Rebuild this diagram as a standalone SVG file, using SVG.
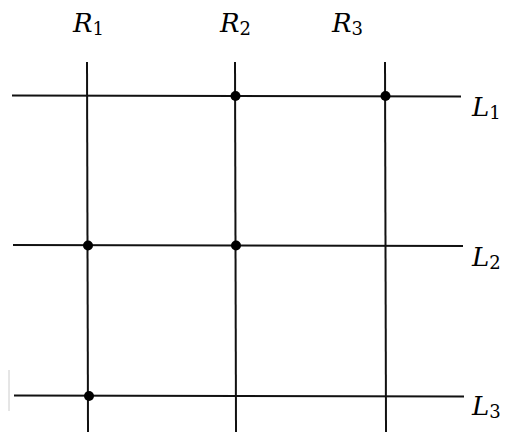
<svg xmlns="http://www.w3.org/2000/svg" width="510" height="434" viewBox="0 0 510 434">
<style>
.ln{stroke:#111;stroke-width:2;fill:none}
.dot{fill:#000}
.lbl{font-family:"DejaVu Serif","Liberation Serif",serif;font-size:26px;font-style:italic;fill:#000}
.sub{font-style:normal;font-size:18px}
</style>
<rect width="510" height="434" fill="#fff"/>
<g id="connectors">
<line class="ln" x1="87" y1="62" x2="88" y2="432"/>
<line class="ln" x1="235" y1="62" x2="236" y2="432"/>
<line class="ln" x1="385" y1="62" x2="386" y2="432"/>
<line class="ln" x1="12" y1="95.5" x2="461" y2="96.5"/>
<line class="ln" x1="13" y1="245" x2="463" y2="246"/>
<line class="ln" x1="14" y1="395.5" x2="464" y2="396.5"/>
<line x1="9" y1="370" x2="9" y2="411" stroke="#ccc" stroke-width="1"/>
</g>
<g id="R1"><text class="lbl" x="73" y="32">R<tspan class="sub" dy="3">1</tspan></text></g>
<g id="R2"><text class="lbl" x="220" y="32">R<tspan class="sub" dy="3">2</tspan></text></g>
<g id="R3"><text class="lbl" x="332" y="32">R<tspan class="sub" dy="3">3</tspan></text></g>
<g id="L1"><text class="lbl" x="472" y="116">L<tspan class="sub" dy="3">1</tspan></text></g>
<g id="L2"><text class="lbl" x="472" y="266">L<tspan class="sub" dy="3">2</tspan></text></g>
<g id="L3"><text class="lbl" x="472" y="415">L<tspan class="sub" dy="3">3</tspan></text></g>
<g id="p12"><circle class="dot" cx="235.5" cy="96" r="5"/></g>
<g id="p13"><circle class="dot" cx="385.5" cy="96" r="5"/></g>
<g id="p21"><circle class="dot" cx="88" cy="245.5" r="5"/></g>
<g id="p22"><circle class="dot" cx="236" cy="245.5" r="5"/></g>
<g id="p31"><circle class="dot" cx="89" cy="396" r="5"/></g>
</svg>
